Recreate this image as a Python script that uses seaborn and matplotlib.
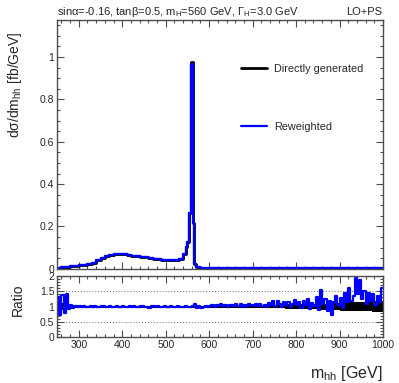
import numpy as np
import matplotlib
matplotlib.use("Agg")
import matplotlib.pyplot as plt
from matplotlib.lines import Line2D
from matplotlib.ticker import MultipleLocator
import seaborn as sns

# ---------------- data ----------------
main_edges = [250, 260, 270, 280, 290, 300, 310, 320, 330, 340, 350, 360, 370, 380, 390,
              400, 410, 420, 430, 440, 450, 460, 470, 480, 490, 500, 510, 520, 530, 540,
              546, 550, 554, 558, 562, 566, 570, 580, 590, 600, 610, 620, 630, 640, 650,
              660, 670, 680, 690, 700, 710, 720, 730, 740, 750, 760, 770, 780, 790, 800,
              810, 820, 830, 840, 850, 860, 870, 880, 890, 900, 910, 920, 930, 940, 950,
              960, 970, 980, 990, 1000]
reweighted_vals = [0.004, 0.007, 0.009, 0.012, 0.014, 0.017, 0.020, 0.025, 0.030, 0.040,
                   0.052, 0.061, 0.066, 0.069, 0.070, 0.069, 0.066, 0.063, 0.060, 0.057,
                   0.054, 0.051, 0.048, 0.045, 0.043, 0.041, 0.040, 0.041, 0.047, 0.068,
                   0.105, 0.125, 0.262, 0.965, 0.215, 0.022, 0.007, 0.006, 0.006, 0.005,
                   0.005, 0.005, 0.005, 0.004, 0.004, 0.004, 0.004, 0.004, 0.004, 0.003,
                   0.003, 0.003, 0.003, 0.003, 0.003, 0.003, 0.003, 0.003, 0.003, 0.003,
                   0.002, 0.002, 0.002, 0.002, 0.002, 0.002, 0.002, 0.002, 0.002, 0.002,
                   0.002, 0.002, 0.002, 0.002, 0.002, 0.002, 0.002, 0.002, 0.002]
direct_vals = [0.004, 0.007, 0.009, 0.012, 0.014, 0.017, 0.020, 0.025, 0.030, 0.040,
               0.052, 0.061, 0.066, 0.069, 0.070, 0.069, 0.066, 0.063, 0.060, 0.057,
               0.054, 0.051, 0.048, 0.045, 0.043, 0.041, 0.040, 0.041, 0.047, 0.068,
               0.105, 0.125, 0.262, 0.975, 0.215, 0.022, 0.007, 0.006, 0.006, 0.005,
               0.005, 0.005, 0.005, 0.004, 0.004, 0.004, 0.004, 0.004, 0.004, 0.003,
               0.003, 0.003, 0.003, 0.003, 0.003, 0.003, 0.003, 0.003, 0.003, 0.003,
               0.002, 0.002, 0.002, 0.002, 0.002, 0.002, 0.002, 0.002, 0.002, 0.002,
               0.002, 0.002, 0.002, 0.002, 0.002, 0.002, 0.002, 0.002, 0.002]

ratio_edges = list(range(250, 1005, 5))
ratio_vals = [1.30, 0.72, 1.38, 0.80, 1.40, 0.92, 1.06, 0.97, 1.02, 0.98,
              1.01, 0.99, 1.02, 0.98, 1.00, 1.02, 0.99, 1.01, 1.00, 0.98,
              1.01, 1.02, 0.99, 1.00, 1.01, 0.99, 1.00, 1.02, 0.99, 1.00,
              1.01, 0.98, 1.00, 1.01, 0.99, 1.02, 1.00, 0.98, 1.01, 1.03,
              0.99, 1.00, 0.97, 1.01, 1.02, 0.99, 1.01, 1.00, 0.98, 1.02,
              1.00, 0.99, 1.01, 0.98, 1.00, 1.02, 0.99, 1.00, 0.98, 1.01,
              1.00, 1.00, 1.01, 1.08, 0.95, 1.02, 0.97, 1.00, 1.03, 0.98,
              1.02, 1.04, 0.99, 1.06, 1.03, 1.08, 1.02, 1.05, 0.99, 1.04,
              1.06, 1.01, 1.08, 1.03, 1.10, 1.00, 1.05, 1.02, 1.09, 1.04,
              1.01, 1.07, 1.03, 1.10, 1.02, 1.06, 1.00, 1.12, 1.04, 1.18,
              1.02, 1.20, 1.08, 0.98, 1.14, 1.05, 1.16, 1.00, 1.10, 1.22,
              1.04, 1.15, 0.95, 1.18, 1.06, 1.25, 0.92, 1.12, 1.02, 1.30,
              0.90, 1.55, 1.10, 1.25, 0.85, 1.20, 0.72, 1.15, 1.35, 1.05,
              1.28, 0.95, 1.45, 1.15, 1.60, 1.20, 1.35, 1.95, 1.40, 1.88,
              1.25, 1.50, 1.10, 1.45, 1.20, 1.40, 1.05, 1.35, 1.15, 1.62]

band_edges = list(range(250, 1025, 25))
band_err = [0.12, 0.04, 0.02, 0.015, 0.015, 0.015, 0.015, 0.015, 0.015, 0.015,
            0.02, 0.02, 0.025, 0.03, 0.03, 0.035, 0.04, 0.045, 0.05, 0.055,
            0.06, 0.07, 0.08, 0.09, 0.10, 0.12, 0.14, 0.15, 0.16, 0.17]

legend_labels = ["Directly generated", "Reweighted"]
title_left = r"sin$\alpha$=-0.16, tan$\beta$=0.5, m$_{\rm H}$=560 GeV, $\Gamma_{\rm H}$=3.0 GeV"
title_right = "LO+PS"

# ---------------- style ----------------
sns.set_style("ticks")
plt.rcParams["font.family"] = ["Liberation Sans", "DejaVu Sans"]
plt.rcParams["mathtext.fontset"] = "custom"
plt.rcParams["mathtext.rm"] = "Liberation Sans"
plt.rcParams["mathtext.it"] = "Liberation Sans"
plt.rcParams["mathtext.sf"] = "Liberation Sans"

fig = plt.figure(figsize=(3.99, 3.83), dpi=100)
ax = fig.add_axes([0.143, 0.298, 0.817, 0.650])
axr = fig.add_axes([0.143, 0.120, 0.817, 0.159])

frame_col = "0.3"

def centers(e):
    e = np.asarray(e, dtype=float)
    return 0.5 * (e[:-1] + e[1:])

sns.histplot(x=centers(main_edges), weights=direct_vals, bins=main_edges,
             element="step", fill=False, color="black", linewidth=2.0, ax=ax)
sns.histplot(x=centers(main_edges), weights=reweighted_vals, bins=main_edges,
             element="step", fill=False, color="#0000ff", linewidth=1.7, ax=ax)

# ratio panel
be = np.asarray(band_edges, dtype=float)
err = np.asarray(band_err + [band_err[-1]])
axr.fill_between(be, 1 - err, 1 + err, step="post", color="black", lw=0)
axr.axhline(1.0, color="black", lw=1.5, zorder=2)
sns.histplot(x=centers(ratio_edges), weights=ratio_vals, bins=ratio_edges,
             element="step", fill=False, color="#0000ff", linewidth=1.6, ax=axr)
for yv in (0.5, 1.5):
    axr.axhline(yv, color="0.4", lw=0.7, ls=(0, (1, 2)), zorder=0)

# axes formatting
for a in (ax, axr):
    a.set_xlim(250, 1000)
    a.xaxis.set_major_locator(MultipleLocator(100))
    a.xaxis.set_minor_locator(MultipleLocator(20))
    a.tick_params(which="both", direction="in", top=True, right=True,
                  color=frame_col, width=0.8, labelsize=7.5, pad=2)
    a.tick_params(which="major", length=5)
    a.tick_params(which="minor", length=2.5)
    for s in a.spines.values():
        s.set_color(frame_col)
        s.set_linewidth(1.0)
    a.set_xlabel("")
    a.set_ylabel("")

ax.set_ylim(0, 1.175)
ax.tick_params(labelbottom=False)
ax.set_yticks([0, 0.2, 0.4, 0.6, 0.8, 1.0])
ax.set_yticklabels(["0", "0.2", "0.4", "0.6", "0.8", "1"])
ax.yaxis.set_minor_locator(MultipleLocator(0.05))

axr.set_ylim(0, 2)
axr.set_yticks([0, 0.5, 1, 1.5, 2])
axr.set_yticklabels(["0", "0.5", "1", "1.5", "2"])
axr.yaxis.set_minor_locator(MultipleLocator(0.1))
axr.set_xticks([300, 400, 500, 600, 700, 800, 900, 1000])
axr.set_xticklabels(["300", "400", "500", "600", "700", "800", "900", "1000"])

ax.set_ylabel(r"d$\sigma$/dm$_{\rm hh}$ [fb/GeV]", fontsize=10, loc="top")
ax.yaxis.set_label_coords(-0.10, 0.955)
axr.set_ylabel("Ratio", fontsize=10)
axr.yaxis.set_label_coords(-0.10, 0.62)
axr.set_xlabel(r"m$_{\rm hh}$ [GeV]", fontsize=11.5, loc="right", labelpad=10)

fig.text(0.143, 0.962, title_left, fontsize=8, ha="left", va="baseline")
fig.text(0.958, 0.962, title_right, fontsize=8, ha="right", va="baseline")

handles = [Line2D([], [], color="black", lw=2.0),
           Line2D([], [], color="#0000ff", lw=1.6)]
ax.legend(handles, legend_labels, loc="upper left", bbox_to_anchor=(0.535, 0.862),
          frameon=False, fontsize=7.8, labelspacing=4.4, handlelength=2.4,
          handletextpad=0.6)

fig.savefig("out.png", dpi=100)
